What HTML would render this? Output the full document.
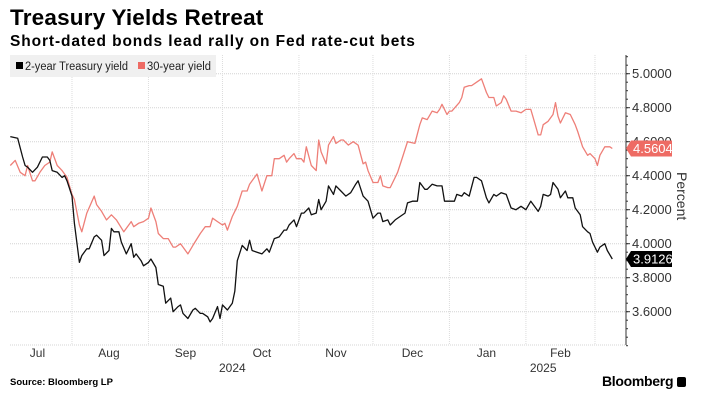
<!DOCTYPE html>
<html><head><meta charset="utf-8"><style>
body{margin:0;background:#fff;font-family:"Liberation Sans",sans-serif;}
#wrap{position:relative;width:708px;height:403px;overflow:hidden;}
.t{position:absolute;white-space:nowrap;}
</style></head><body>
<div id="wrap">
<div class="t" style="left:10px;top:5px;font-size:22.5px;font-weight:bold;color:#000;letter-spacing:0.2px;">Treasury Yields Retreat</div>
<div class="t" style="left:10px;top:33px;font-size:15.5px;font-weight:bold;color:#000;letter-spacing:0.9px;">Short-dated bonds lead rally on Fed rate-cut bets</div>
<svg id="chart" width="708" height="403" style="position:absolute;left:0;top:0"></svg>
<div class="t" style="left:10px;top:377px;font-size:9.5px;font-weight:bold;">Source: Bloomberg LP</div>
<div class="t" style="left:602px;top:373px;font-size:14px;font-weight:bold;letter-spacing:-0.3px;">Bloomberg <span style="display:inline-block;width:9px;height:10px;background:#000;border-radius:2px;vertical-align:-1px"></span></div>
</div>
<script>
const blackDays=[6,9,11,12,13,15,17,19,21,22,23,25,27,28,29,31,32,34,35,37,38,40,41,43,44,46,47,48,50,51,53,55,56,57,59,60,62,63,65,66,68,69,71,72,74,75,76,78,80,81,83,84,86,87,88,90,91,92,94,96,97,98,100,102,103,104,106,108,110,111,113,115,117,118,119,121,122,124,125,127,128,130,131,132,134,135,137,138,140,142,144,146,147,149,151,153,155,156,157,159,160,162,164,166,167,169,171,172,174,175,177,179,181,182,184,186,187,189,190,192,194,195,197,199,200,202,203,205,207,209,211,213,215,217,220,221,222,224,225,226,228,229,231,232,234,235,237,238,240,241,242,244,245,247,248,250];
const blackVals=[4.63,4.62,4.51,4.46,4.45,4.42,4.45,4.51,4.51,4.49,4.43,4.42,4.39,4.40,4.37,4.28,4.12,3.89,3.93,3.97,3.97,4.04,4.05,4.02,3.93,3.96,4.09,4.07,4.07,4.01,3.94,4.00,3.92,3.94,3.90,3.87,3.89,3.91,3.86,3.76,3.75,3.65,3.68,3.60,3.63,3.64,3.59,3.56,3.61,3.62,3.59,3.59,3.57,3.54,3.56,3.63,3.56,3.64,3.61,3.65,3.72,3.90,3.99,3.96,4.02,3.96,3.95,3.94,3.97,3.95,4.03,4.04,4.08,4.08,4.11,4.14,4.10,4.18,4.18,4.21,4.17,4.18,4.26,4.20,4.25,4.34,4.29,4.34,4.31,4.28,4.30,4.35,4.37,4.28,4.25,4.15,4.18,4.18,4.13,4.14,4.11,4.14,4.16,4.18,4.24,4.25,4.25,4.36,4.32,4.32,4.35,4.34,4.34,4.25,4.25,4.25,4.29,4.28,4.30,4.28,4.39,4.39,4.37,4.27,4.24,4.29,4.28,4.30,4.29,4.21,4.20,4.22,4.20,4.25,4.19,4.22,4.29,4.28,4.29,4.36,4.32,4.27,4.31,4.27,4.27,4.21,4.17,4.10,4.07,4.06,4.01,3.95,3.98,4.00,3.96,3.91];
const redDays=[6,8,10,12,13,15,16,18,20,22,23,25,27,29,31,32,34,35,37,40,41,43,45,47,49,52,53,55,56,58,60,62,63,65,66,68,70,72,73,75,76,78,80,83,85,87,88,90,92,93,94,96,98,100,102,103,104,106,107,108,110,112,113,115,117,118,119,121,122,124,125,126,128,130,131,132,134,135,137,138,140,141,143,145,146,147,149,150,151,153,155,156,157,159,160,162,163,165,167,170,172,173,175,177,179,180,181,183,184,185,188,189,190,192,193,195,197,199,200,202,203,205,206,207,209,211,213,215,217,218,220,221,222,224,226,227,228,229,231,233,235,236,238,240,241,243,244,245,247,249,250];
const redVals=[4.46,4.49,4.42,4.40,4.46,4.37,4.37,4.42,4.46,4.48,4.54,4.46,4.43,4.39,4.29,4.26,4.11,4.07,4.18,4.28,4.23,4.19,4.14,4.17,4.14,4.07,4.09,4.13,4.10,4.12,4.13,4.15,4.21,4.13,4.06,4.03,4.03,3.98,3.98,4.00,3.98,3.94,3.99,4.06,4.10,4.10,4.15,4.13,4.11,4.12,4.08,4.16,4.22,4.31,4.31,4.35,4.37,4.41,4.36,4.31,4.40,4.40,4.50,4.50,4.52,4.48,4.50,4.53,4.50,4.50,4.48,4.57,4.46,4.43,4.61,4.54,4.47,4.58,4.63,4.59,4.61,4.61,4.58,4.60,4.59,4.58,4.47,4.48,4.43,4.36,4.36,4.40,4.34,4.33,4.33,4.39,4.42,4.51,4.60,4.59,4.70,4.74,4.73,4.78,4.77,4.79,4.82,4.76,4.78,4.78,4.83,4.86,4.92,4.93,4.93,4.95,4.97,4.89,4.86,4.86,4.81,4.83,4.87,4.85,4.78,4.78,4.77,4.79,4.79,4.74,4.64,4.64,4.70,4.72,4.76,4.83,4.75,4.71,4.77,4.76,4.70,4.66,4.57,4.52,4.53,4.50,4.46,4.52,4.57,4.57,4.56];
const yTicks=[3.6,3.8,4.0,4.2,4.4,4.6,4.8,5.0];
const yTickLabels=["3.6000","3.8000","4.0000","4.2000","4.4000","4.6000","4.8000","5.0000"];
const monthStarts=[31,62,92,123,153,184,215,243];
const monthLabels=["Jul","Aug","Sep","Oct","Nov","Dec","Jan","Feb"];
const monthLabelDays=[17,46,77,108,138,169,199,229];
const yearLabels=["2024","2025"];
const yearLabelDays=[96,222];
const lastBlack="3.9126", lastRed="4.5604";

const svg=document.getElementById('chart');
const NS='http://www.w3.org/2000/svg';
const L=10,R=626,T=55,B=345;
const xs=d=>-4.5+d*2.467;
const ys=v=>73.7+(5.0-v)*170;
function mk(tag,attrs,parent){const e=document.createElementNS(NS,tag);for(const k in attrs)e.setAttribute(k,attrs[k]);(parent||svg).appendChild(e);return e;}

yTicks.forEach((v,i)=>{
  const g=mk('line',{x1:L,x2:R,y1:ys(v),y2:ys(v),stroke:'#d4d4d4','stroke-width':1,'stroke-dasharray':'1,1'});
  
  
  const t=mk('text',{x:R+6,y:ys(v)+4.5,'font-size':13,fill:'#333','font-family':'Liberation Sans, sans-serif'});
  t.textContent=yTickLabels[i];
  
  
  mk('line',{x1:R,x2:R+4,y1:ys(v),y2:ys(v),stroke:'#333'});
});
const bl=mk('line',{x1:L,x2:R,y1:B,y2:B,stroke:'#d4d4d4','stroke-dasharray':'1,1'});


for(let v=3.4;v<=5.11;v+=0.05){mk('line',{x1:R,x2:R+2,y1:ys(v),y2:ys(v),stroke:'#333'});}
monthStarts.forEach(d=>{
  const g=mk('line',{x1:xs(d),x2:xs(d),y1:T,y2:B,stroke:'#dcdcdc','stroke-dasharray':'1,1'});
  
  
});
const ax=mk('line',{x1:R,x2:R,y1:T,y2:B,stroke:'#333','stroke-width':1});


monthLabels.forEach((m,i)=>{
  const t=mk('text',{x:xs(monthLabelDays[i]),y:357,'font-size':12,fill:'#333','text-anchor':'middle','font-family':'Liberation Sans, sans-serif'});
  t.textContent=m;
  
  
});
yearLabels.forEach((m,i)=>{
  const t=mk('text',{x:xs(yearLabelDays[i]),y:372,'font-size':12,fill:'#333','text-anchor':'middle','font-family':'Liberation Sans, sans-serif'});
  t.textContent=m;
  
  
});
const pt=mk('text',{x:0,y:0,'font-size':14,fill:'#333','font-family':'Liberation Sans, sans-serif',transform:'translate(677,172) rotate(90)'});
pt.textContent='Percent';



function line(days,vals,color,name){
  const d=days.map((x,i)=>(i?'L':'M')+xs(x).toFixed(1)+','+ys(vals[i]).toFixed(1)).join('');
  const p=mk('path',{d:d,fill:'none',stroke:color,'stroke-width':1.3,'stroke-linejoin':'round'});
  
  
}
line(redDays,redVals,'#ee7f78','line-30-year-yield');
line(blackDays,blackVals,'#111','line-2-year-yield');

function badge(v,label,bg,name){
  const y=ys(v);
  const g=mk('g',{});
  
  
  mk('path',{d:`M${R},${y} L${R+5},${y-8} L${R+46},${y-8} L${R+46},${y+8} L${R+5},${y+8} Z`,fill:bg},g);
  const t=mk('text',{x:R+7,y:y+4.5,'font-size':13,fill:'#fff','font-family':'Liberation Sans, sans-serif'},g);
  t.textContent=label;
}
badge(redVals[redVals.length-1],lastRed,'#ee6b64','last-value-badge-30-year');
badge(blackVals[blackVals.length-1],lastBlack,'#000','last-value-badge-2-year');

const lg=mk('g',{});


mk('rect',{x:10,y:55,width:206,height:22,fill:'#f0f0f0'},lg);
mk('rect',{x:16,y:62,width:7,height:7,fill:'#000'},lg);
const l1=mk('text',{x:25,y:70,'font-size':11.5,fill:'#222','font-family':'Liberation Sans, sans-serif',textLength:103,lengthAdjust:'spacingAndGlyphs'},lg);
l1.textContent='2-year Treasury yield';


mk('rect',{x:138,y:62,width:7,height:7,fill:'#ee6b64'},lg);
const l2=mk('text',{x:147,y:70,'font-size':11.5,fill:'#222','font-family':'Liberation Sans, sans-serif',textLength:64,lengthAdjust:'spacingAndGlyphs'},lg);
l2.textContent='30-year yield';


</script>
</body></html>
